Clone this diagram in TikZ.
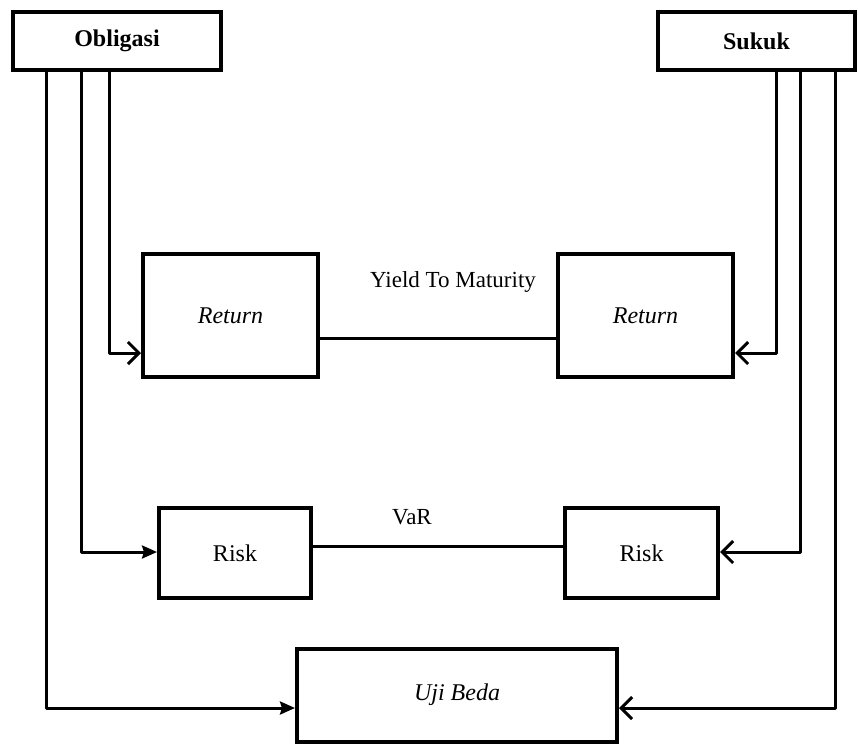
\documentclass[tikz,border=0pt]{standalone}
\usepackage{fontspec}
\setmainfont{Liberation Serif}
\usetikzlibrary{arrows.meta}
\begin{document}
\begin{tikzpicture}[x=1pt,y=-1pt,
  box/.style={draw, line width=4pt, fill=white, inner sep=0pt, font=\fontsize{24}{28}\selectfont},
  conn/.style={line width=3pt, line join=round},
  openarr/.style={conn, -{Straight Barb[length=11pt,width=22pt,line width=3pt]}},
  fillarr/.style={conn, -{Stealth[length=15pt,width=13pt,inset=2pt]}},
  lbl/.style={font=\fontsize{23}{27}\selectfont, inner sep=0pt}]
\useasboundingbox (0,0) rectangle (858,745);
\node[box, minimum width=208, minimum height=58, font=\fontsize{24}{28}\selectfont\bfseries] (obl) at (117,41) {Obligasi};
\node[box, minimum width=197, minimum height=58, font=\fontsize{24}{28}\selectfont\bfseries] (suk) at (756.5,41) {Sukuk};
\node[box, minimum width=175, minimum height=123] (retL) at (230.5,315.5) {\itshape Return};
\node[box, minimum width=175, minimum height=123] (retR) at (645.5,315.5) {\itshape Return};
\node[box, minimum width=152, minimum height=90] (riskL) at (235,553) {Risk};
\node[box, minimum width=153, minimum height=90] (riskR) at (641.5,553) {Risk};
\node[box, minimum width=320, minimum height=93] (uji) at (457,695) {\itshape Uji Beda};
\node[lbl] (ytm) at (453,282) {Yield To Maturity};
\node[lbl] (var) at (412,517) {VaR};
% horizontal links
\draw[conn] (retL.east |- 0,338) -- (retR.west |- 0,338);
\draw[conn] (riskL.east |- 0,546) -- (riskR.west |- 0,546);
% Obligasi connectors
\draw[openarr] (obl.south -| 109,0) |- (retL.west |- 0,353);
\draw[fillarr] (obl.south -| 81,0) |- (riskL.west |- 0,552);
\draw[fillarr] (obl.south -| 46,0) |- (uji.west |- 0,708);
% Sukuk connectors
\draw[openarr] (suk.south -| 776,0) |- (retR.east |- 0,353);
\draw[openarr] (suk.south -| 800,0) |- (riskR.east |- 0,552);
\draw[openarr] (suk.south -| 835,0) |- (uji.east |- 0,708);
\end{tikzpicture}
\end{document}
